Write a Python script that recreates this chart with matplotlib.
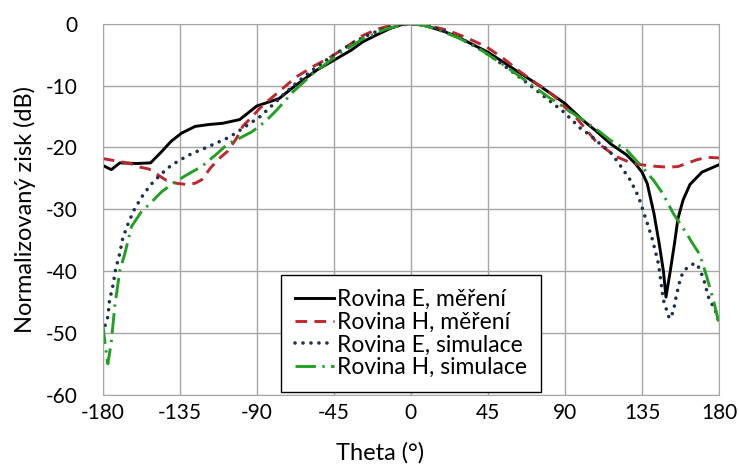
import matplotlib
matplotlib.use("Agg")
import matplotlib.pyplot as plt

plt.rcParams["axes.unicode_minus"] = False
plt.rcParams["font.family"] = ["Lato", "DejaVu Sans"]

# Rovina E, mereni
theta_e_meas = [-180, -175, -170, -160, -152, -146, -140, -134, -126, -118, -110, -100,
                -90, -77, -67, -55, -45, -35, -28, -20, -12, -5, 0, 5, 12, 20, 30, 45,
                60, 75, 90, 100, 108, 117, 126, 131, 135, 138, 142, 145, 147.5, 149,
                151.5, 154, 156, 159, 163, 170, 180]
gain_e_meas = [-22.9, -23.6, -22.5, -22.6, -22.5, -20.8, -19.0, -17.7, -16.6, -16.3, -16.1,
               -15.5, -13.3, -12.1, -9.9, -7.5, -5.9, -4.3, -2.9, -1.8, -0.75, -0.1, 0,
               -0.1, -0.6, -1.3, -2.5, -4.6, -7.3, -10.0, -12.9, -15.5, -17.3, -19.5,
               -21.2, -22.6, -24.0, -25.8, -30.7, -35.5, -40.0, -44.2, -40.0, -35.5,
               -31.5, -28.5, -26.0, -24.0, -22.8]

# Rovina H, mereni
theta_h_meas = [-180, -176, -170, -164, -158, -153, -148, -143, -137, -131, -126, -122,
                -117, -112, -107, -102, -98, -94, -88, -84, -75, -67, -57, -47, -38, -28,
                -20, -12, -5, 0, 10, 21, 32, 44, 54, 64, 73, 83, 90, 96, 102, 108, 114,
                120, 126, 132, 140, 150, 156, 161, 167, 173, 180]
gain_h_meas = [-21.8, -22.0, -22.3, -22.6, -23.2, -23.5, -24.4, -25.3, -25.8, -26.0, -25.8,
               -25.2, -23.3, -21.8, -20.6, -18.6, -16.5, -15.4, -13.6, -12.6, -10.5, -8.6,
               -6.9, -5.4, -3.8, -1.9, -0.9, -0.3, 0, 0, -0.3, -1.0, -2.2, -3.7, -5.6,
               -7.8, -9.6, -11.5, -13.5, -15.0, -17.0, -19.0, -20.3, -21.5, -22.2, -22.7,
               -23.0, -23.2, -23.1, -22.6, -22.0, -21.6, -21.7]

# Rovina E, simulace
theta_e_sim = [-180, -177, -176, -174, -172.6, -170, -168.3, -165, -161.3, -156, -150.6,
               -145, -140, -134, -128, -121, -114.5, -108, -103, -96, -88, -81, -74.6, -67,
               -58, -48, -38, -28, -18, -9, 0, 9, 18, 28, 38, 48, 58, 68, 78, 89, 99,
               104.6, 110, 116.3, 121.5, 128.2, 133, 136.8, 140.7, 144.6, 147.5, 151,
               153.3, 155, 157.2, 159, 162, 166, 168.7, 171.4, 173.8, 178.7, 180]
gain_e_sim = [-50.0, -47.4, -44.7, -42.3, -39.9, -37.1, -34.7, -32.2, -29.9, -27.5, -25.6,
              -24.1, -22.9, -21.9, -21.0, -20.2, -19.4, -18.6, -17.8, -16.5, -15.0, -13.2,
              -11.5, -9.6, -7.6, -5.6, -3.8, -2.2, -1.0, -0.25, 0, -0.25, -1.0, -2.2, -3.7,
              -5.5, -7.5, -9.6, -11.8, -14.2, -16.9, -18.0, -19.3, -20.7, -22.6, -25.3,
              -28.0, -31.2, -34.5, -38.8, -44.7, -47.7, -46.6, -44.0, -41.5, -40.1, -39.3,
              -38.7, -39.6, -41.7, -44.2, -46.9, -48.5]

# Rovina H, simulace
theta_h_sim = [-180, -178.5, -177, -175, -173, -170, -167, -163.2, -157.4, -151, -145.7,
               -137.9, -130, -122.3, -114, -106.8, -100, -93, -85, -78.5, -68.8, -57,
               -41.5, -27.8, -15, -8.4, 0, 8, 15, 28, 42, 57, 70, 80, 90, 100, 110, 116.3,
               126, 135.8, 141.7, 147, 153.3, 161, 164, 168.9, 172.8, 176.7, 180]
gain_h_sim = [-48.5, -52.0, -55.0, -51.5, -45.8, -39.9, -37.1, -32.8, -30.4, -28.7, -27.2,
              -25.6, -24.3, -23.1, -21.2, -19.4, -18.5, -17.5, -15.8, -14.0, -11.0, -8.0,
              -4.8, -2.4, -0.9, -0.4, 0, -0.3, -0.9, -2.3, -4.4, -7.2, -9.8, -11.8, -13.6,
              -15.5, -17.4, -18.8, -20.4, -23.4, -25.3, -27.4, -30.7, -33.9, -35.3, -37.4,
              -40.9, -44.7, -48.5]

labels = ["Rovina E, měření", "Rovina H, měření", "Rovina E, simulace", "Rovina H, simulace"]
x_ticks = [-180, -135, -90, -45, 0, 45, 90, 135, 180]
y_ticks = [0, -10, -20, -30, -40, -50, -60]

fig = plt.figure(figsize=(7.39, 4.66), dpi=100)
ax = fig.add_axes([0.139, 0.153, 0.834, 0.796])

ax.plot(theta_e_meas, gain_e_meas, color="black", lw=2.1, label=labels[0])
ax.plot(theta_h_meas, gain_h_meas, color="#C0272D", lw=2.1, dashes=(4, 2.5), label=labels[1])
ax.plot(theta_e_sim, gain_e_sim, color="#1F3050", lw=2.6, dashes=(0.01, 2.2),
        dash_capstyle="round", label=labels[2])
ax.plot(theta_h_sim, gain_h_sim, color="#22A022", lw=2.1, dashes=(7, 2.2, 0.8, 2.2),
        label=labels[3])

ax.set_xlim(-180, 180)
ax.set_ylim(-60, 0)
ax.set_xticks(x_ticks)
ax.set_yticks(y_ticks)
ax.tick_params(length=0, labelsize=15)
ax.tick_params(axis="x", pad=6)
ax.tick_params(axis="y", pad=18)
ax.grid(True, color="#A6A6A6", lw=1)
ax.set_axisbelow(True)
for s in ax.spines.values():
    s.set_color("#A6A6A6")

ax.set_xlabel("Theta (°)", fontsize=17)
ax.xaxis.set_label_coords(0.45, -0.128)
ax.set_ylabel("Normalizovaný zisk (dB)", fontsize=17)
ax.yaxis.set_label_coords(-0.108, 0.5)

leg = ax.legend(loc="lower center", fontsize=16.5, fancybox=False, framealpha=1,
                edgecolor="black", borderaxespad=0.12, handlelength=1.7,
                handletextpad=0.15, labelspacing=0.08, borderpad=0.6)
leg.get_frame().set_linewidth(1.0)

fig.savefig("out.png", dpi=100)
